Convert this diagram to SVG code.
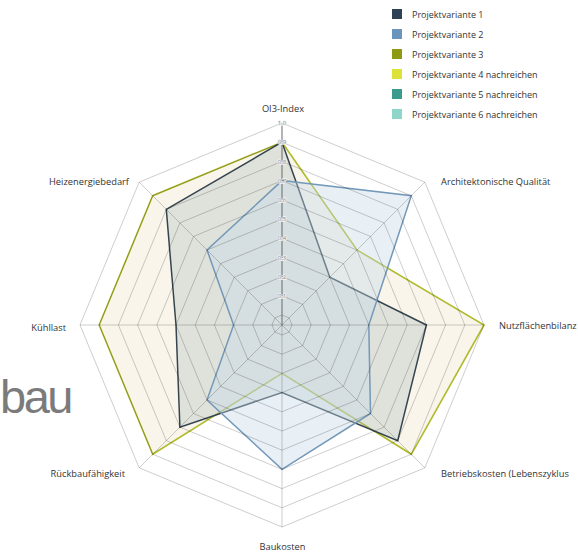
<svg xmlns="http://www.w3.org/2000/svg" xmlns:xlink="http://www.w3.org/1999/xlink" width="578" height="553" viewBox="0 0 578 553">
<style>
.lbl{font-family:"Open Sans","Noto Sans","Liberation Sans",sans-serif;font-size:9.3px;fill:#333333}
.leg{font-family:"Open Sans","Noto Sans","Liberation Sans",sans-serif;font-size:9px;fill:#333333}
.tick{font-family:"Open Sans","Noto Sans","Liberation Sans",sans-serif;font-size:6px;fill:#8a8a8a;stroke:#f4f4f4;stroke-width:1.4px;paint-order:stroke;text-anchor:middle}
.ring{fill:none;stroke:#000000;stroke-opacity:0.22;stroke-width:0.9px}
.axis{stroke:#000000;stroke-opacity:0.22;stroke-width:0.9px}
.s1{fill:#a9bcb8;fill-opacity:0.32;stroke:#35444f;stroke-width:1.5px;stroke-linejoin:miter}
.s2{fill:#c5d9e8;fill-opacity:0.4;stroke:#7398b8;stroke-width:1.5px}
.s3{fill:#f1e6d0;fill-opacity:0.42;stroke:#b0bb2c;stroke-width:1.6px}
</style>
<defs>
<polygon id="oct" vector-effect="non-scaling-stroke" points="0,-1 0.7071,-0.7071 1,0 0.7071,0.7071 0,1 -0.7071,0.7071 -1,0 -0.7071,-0.7071"/>
</defs>
<rect width="578" height="553" fill="#ffffff"/>
<text x="0" y="413" font-family="Liberation Sans, Arial, sans-serif" font-size="47" letter-spacing="-2.5" fill="#7b7b7b">bau</text>
<g id="series">
<polygon id="variante3" class="s3" points="282,142.2 357,250 484,325 411.3,454.3 282,373.4 152.7,454.3 99.2,325 152.7,195.7"/>
<polygon id="variante1" class="s1" points="282,142.2 329.8,277.2 426.4,325 397.7,440.7 282,392.6 179.9,427.1 176,325 166.3,209.3"/>
<polygon id="variante2" class="s2" points="282,180.6 411.3,195.7 368.8,325 370.5,413.5 282,469.4 207,400 233.6,325 207,250"/>
</g>
<g id="grid">
<use xlink:href="#oct" class="ring" transform="translate(282 325) scale(10)"/>
<use xlink:href="#oct" class="ring" transform="translate(282 325) scale(29.2)"/>
<use xlink:href="#oct" class="ring" transform="translate(282 325) scale(48.4)"/>
<use xlink:href="#oct" class="ring" transform="translate(282 325) scale(67.6)"/>
<use xlink:href="#oct" class="ring" transform="translate(282 325) scale(86.8)"/>
<use xlink:href="#oct" class="ring" transform="translate(282 325) scale(106)"/>
<use xlink:href="#oct" class="ring" transform="translate(282 325) scale(125.2)"/>
<use xlink:href="#oct" class="ring" transform="translate(282 325) scale(144.4)"/>
<use xlink:href="#oct" class="ring" transform="translate(282 325) scale(163.6)"/>
<use xlink:href="#oct" class="ring" transform="translate(282 325) scale(182.8)"/>
<use xlink:href="#oct" class="ring" transform="translate(282 325) scale(202)"/>
<line class="axis" x1="282" y1="325" x2="424.8" y2="182.2"/>
<line class="axis" x1="282" y1="325" x2="484" y2="325"/>
<line class="axis" x1="282" y1="325" x2="424.8" y2="467.8"/>
<line class="axis" x1="282" y1="325" x2="282" y2="527"/>
<line class="axis" x1="282" y1="325" x2="139.2" y2="467.8"/>
<line class="axis" x1="282" y1="325" x2="80" y2="325"/>
<line class="axis" x1="282" y1="325" x2="139.2" y2="182.2"/>
<line x1="282" y1="325" x2="282" y2="123" stroke="#6a6a6a" stroke-width="1"/>
</g>
<g id="ticks">
<text class="tick" x="282" y="297.9">0,1</text>
<text class="tick" x="282" y="278.7">0,2</text>
<text class="tick" x="282" y="259.5">0,3</text>
<text class="tick" x="282" y="240.3">0,4</text>
<text class="tick" x="282" y="221.1">0,5</text>
<text class="tick" x="282" y="201.9">0,6</text>
<text class="tick" x="282" y="182.7">0,7</text>
<text class="tick" x="282" y="163.5">0,8</text>
<text class="tick" x="282" y="144.3">0,9</text>
<text class="tick" x="282" y="125.1">1,0</text>
</g>
<g id="labels">
<text id="lbl-oi3" class="lbl" x="283" y="112" text-anchor="middle">OI3-Index</text>
<text id="lbl-arch" class="lbl" x="441" y="185">Architektonische Qualität</text>
<text id="lbl-nutz" class="lbl" x="499" y="329">Nutzflächenbilanz</text>
<text id="lbl-betr" class="lbl" x="441" y="477">Betriebskosten (Lebenszyklus</text>
<text id="lbl-bauk" class="lbl" x="282.5" y="550" text-anchor="middle">Baukosten</text>
<text id="lbl-rueck" class="lbl" x="125" y="477" text-anchor="end">Rückbaufähigkeit</text>
<text id="lbl-kuehl" class="lbl" x="66" y="331" text-anchor="end">Kühllast</text>
<text id="lbl-heiz" class="lbl" x="129" y="185" text-anchor="end">Heizenergiebedarf</text>
</g>
<g id="legend">
<g id="leg1"><rect x="392" y="9" width="10" height="10" fill="#2e4255"/><text class="leg" x="412" y="17.5">Projektvariante 1</text></g>
<g id="leg2"><rect x="392" y="29" width="10" height="10" fill="#6b95bd"/><text class="leg" x="412" y="37.5">Projektvariante 2</text></g>
<g id="leg3"><rect x="392" y="49" width="10" height="10" fill="#8e9a12"/><text class="leg" x="412" y="57.5">Projektvariante 3</text></g>
<g id="leg4"><rect x="392" y="69" width="10" height="10" fill="#dde23a"/><text class="leg" x="412" y="77.5">Projektvariante 4 nachreichen</text></g>
<g id="leg5"><rect x="392" y="89" width="10" height="10" fill="#3a9b8c"/><text class="leg" x="412" y="97.5">Projektvariante 5 nachreichen</text></g>
<g id="leg6"><rect x="392" y="109" width="10" height="10" fill="#8fd6ca"/><text class="leg" x="412" y="117.5">Projektvariante 6 nachreichen</text></g>
</g>
</svg>
